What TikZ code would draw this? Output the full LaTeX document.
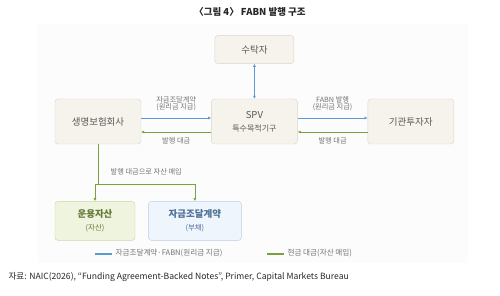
\documentclass[tikz,border=0pt]{standalone}
\usepackage{fontspec}
\setmainfont{Noto Sans CJK KR}
\usetikzlibrary{arrows.meta,positioning}
\definecolor{boxfill}{HTML}{F5F3EB}
\definecolor{boxline}{HTML}{D9D6CB}
\definecolor{flow}{HTML}{5B9BD5}
\definecolor{cash}{HTML}{7AA23A}
\definecolor{txt}{HTML}{595959}
\definecolor{assetfill}{HTML}{EEF4DD}
\definecolor{assetline}{HTML}{C9D6A8}
\definecolor{assettxt}{HTML}{66783A}
\definecolor{debtfill}{HTML}{EEF5FC}
\definecolor{debtline}{HTML}{BACFE3}
\definecolor{debttxt}{HTML}{4E6F93}

\begin{document}
\begin{tikzpicture}[x=1pt,y=1pt,font=\fontsize{9.5}{12}\selectfont,text=txt,
      node distance=70pt,
      b/.style={rectangle,draw=boxline,fill=boxfill,rounded corners=3pt,
                minimum width=86pt,minimum height=45pt,align=center,inner sep=0pt},
      topb/.style={b,minimum width=79pt,minimum height=28pt},
      asset/.style={b,fill=assetfill,draw=assetline,minimum width=80pt,minimum height=39pt},
      debt/.style={b,fill=debtfill,draw=debtline,minimum width=93pt,minimum height=39pt},
      lbl/.style={font=\fontsize{7.2}{7.8}\selectfont,align=center,text=black!55},
      lgd/.style={font=\fontsize{7.6}{8}\selectfont,text=black!55},
      a/.style={-{Latex[length=3pt,width=3pt]},line width=0.8pt},
      ab/.style={a,flow},
      ag/.style={a,cash}]
      \useasboundingbox (0,0) rectangle (500,-296);
      \fill[black!1] (38,-24) rectangle (468,-263);
      \node[font=\bfseries\fontsize{9.5}{10}\selectfont,text=black!85] (title) at (250,-12) {〈그림 4〉 FABN 발행 구조};
      \node[b]    (ins) at (98,-121.5) {생명보험회사};
      \node[b]    (spv) [right=of ins] {SPV\\[1pt]{\fontsize{8}{9}\selectfont 특수목적기구}};
      \node[b]    (inv) [right=of spv] {기관투자자};
      \node[topb] (tru) [above=35pt of spv] {수탁자};
      \node[asset,anchor=north west] (ast) at ([yshift=-57pt]ins.south west)
            {\textcolor{assettxt}{\bfseries 운용자산}\\[1pt]{\fontsize{7.4}{8}\selectfont\textcolor{assettxt}{(자산)}}};
      \node[debt] (fa) [right=13pt of ast]
            {\textcolor{debttxt}{\bfseries 자금조달계약}\\[1pt]{\fontsize{7.4}{8}\selectfont\textcolor{debttxt}{(부채)}}};
      \draw[ab] ([yshift=3.5pt]ins.east) -- node[lbl,above=3pt]{자금조달계약\\(원리금 지급)} ([yshift=3.5pt]spv.west);
      \draw[ag] ([yshift=-10.5pt]spv.west) -- node[lbl,below=2pt]{발행 대금} ([yshift=-10.5pt]ins.east);
      \draw[ab] ([yshift=3.5pt]spv.east) -- node[lbl,above=3pt]{FABN 발행\\(원리금 지급)} ([yshift=3.5pt]inv.west);
      \draw[ag] ([yshift=-10.5pt]inv.west) -- node[lbl,below=2pt]{발행 대금} ([yshift=-10.5pt]spv.east);
      \draw[ab,{Latex[length=3pt,width=3pt]}-{Latex[length=3pt,width=3pt]}] (tru) -- (spv);
      \coordinate (split) at ([yshift=-40pt]ins.south);
      \draw[cash,line width=0.8pt] (ins.south) -- node[lbl,pos=0.7,right=9pt]{발행 대금으로 자산 매입} (split);
      \draw[ag] (split) -| (ast.north);
      \draw[ag] (split) -| (fa.north);
      % legend
      \coordinate (lgb) at ([yshift=-13pt]ast.south);
      \coordinate (lgg) at ([xshift=172pt]lgb);
      \fill[flow] ([yshift=-1pt]lgb) rectangle ++(17,2) coordinate (lgbe);
      \fill[cash] ([yshift=-1pt]lgg) rectangle ++(17,2) coordinate (lgge);
      \node[lgd,right] (lgbt) at ([yshift=-1pt]lgbe) {자금조달계약·FABN(원리금 지급)};
      \node[lgd,right] (lggt) at ([yshift=-1pt]lgge) {현금 대금(자산 매입)};
      \node[anchor=west,font=\fontsize{8.6}{9}\selectfont,text=black!85] (src) at (5,-277)
            {자료: NAIC(2026), “Funding Agreement-Backed Notes”, Primer, Capital Markets Bureau};
\end{tikzpicture}
\end{document}
